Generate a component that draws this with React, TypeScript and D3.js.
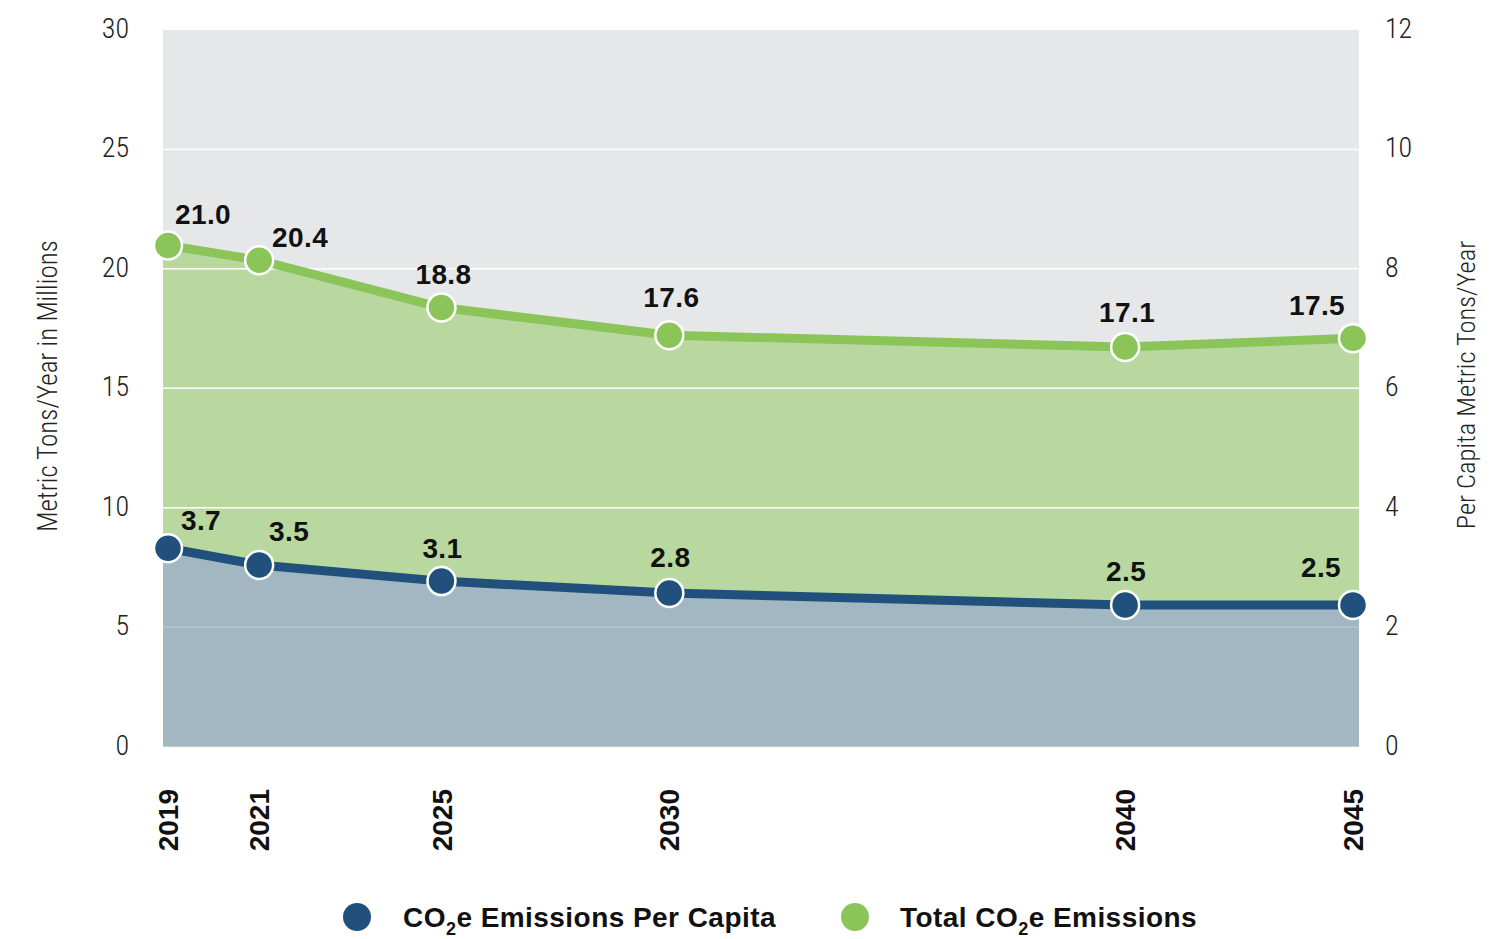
import React from "react";
import * as d3 from "d3";

const years = [2019, 2021, 2025, 2030, 2040, 2045];
const totalValues = [20.98, 20.36, 18.38, 17.22, 16.73, 17.09];
const totalLabels = ["21.0", "20.4", "18.8", "17.6", "17.1", "17.5"];
const perCapitaValues = [3.32, 3.04, 2.77, 2.57, 2.37, 2.37];
const perCapitaLabels = ["3.7", "3.5", "3.1", "2.8", "2.5", "2.5"];
const leftTicks = [0, 5, 10, 15, 20, 25, 30];
const rightTicks = [0, 2, 4, 6, 8, 10, 12];

// label placement offsets (layout)
const totalLabelOffsets: [number, number][] = [[35, -32], [41, -23], [2, -34], [2, -38], [2, -35], [-36, -33]];
const perCapLabelOffsets: [number, number][] = [[33, -28], [30, -34], [1, -33], [1, -36], [1, -34], [-32, -38]];

const W = 1506, H = 939;
const L = 163, R = 1359, T = 30, B = 746.5;

const C = {
  bg: "#e6e7e9",
  greenArea: "#b8d8a0",
  green: "#8bc55a",
  blue: "#20507b",
  blueArea: "#a2b7c2",
};

const condensed = "'Roboto Condensed','Liberation Sans Narrow','Arial Narrow','DejaVu Sans Condensed',sans-serif";
const bold = "'Liberation Sans',Arial,Helvetica,sans-serif";

export default function App() {
  const x = d3.scaleLinear().domain([2019, 2045]).range([168, 1353]);
  const yL = d3.scaleLinear().domain([0, 30]).range([B, T]);
  const yR = d3.scaleLinear().domain([0, 12]).range([B, T]);

  const totalPts: [number, number][] = years.map((yr, i) => [x(yr), yL(totalValues[i])]);
  const capPts: [number, number][] = years.map((yr, i) => [x(yr), yR(perCapitaValues[i])]);

  const extend = (pts: [number, number][]) => [[L, pts[0][1]] as [number, number], ...pts, [R, pts[pts.length - 1][1]] as [number, number]];

  const area = d3.area<[number, number]>().x(d => d[0]).y0(B).y1(d => d[1]);
  const line = d3.line<[number, number]>().x(d => d[0]).y(d => d[1]);

  const grid = leftTicks.filter(t => t > 0 && t < 30);

  return (
    <svg width={W} height={H} style={{ position: "absolute", left: 0, top: 0, background: "#fff" }}>
      <rect x={L} y={T} width={R - L} height={B - T} fill={C.bg} />
      <path d={area(extend(totalPts)) || ""} fill={C.greenArea} />
      {grid.map(t => (
        <line key={"g" + t} x1={L} x2={R} y1={yL(t)} y2={yL(t)} stroke="#fff" strokeWidth={1.5} />
      ))}
      <path d={area(extend(capPts)) || ""} fill={C.blueArea} />
      {grid.map(t => (
        <line key={"g2" + t} x1={L} x2={R} y1={yL(t)} y2={yL(t)} stroke="#fff" strokeOpacity={0.2} strokeWidth={1.5} />
      ))}

      <path d={line(totalPts) || ""} fill="none" stroke={C.green} strokeWidth={9} strokeLinejoin="round" />
      <path d={line(capPts) || ""} fill="none" stroke={C.blue} strokeWidth={9} strokeLinejoin="round" />

      {totalPts.map((p, i) => (
        <circle key={"tc" + i} cx={p[0]} cy={p[1]} r={14} fill={C.green} stroke="#fff" strokeWidth={2.5} />
      ))}
      {capPts.map((p, i) => (
        <circle key={"cc" + i} cx={p[0]} cy={p[1]} r={14} fill={C.blue} stroke="#fff" strokeWidth={2.5} />
      ))}

      {totalPts.map((p, i) => (
        <text key={"tl" + i} x={p[0] + totalLabelOffsets[i][0]} y={p[1] + totalLabelOffsets[i][1]} dy="0.36em"
          textAnchor="middle" fontFamily={bold} fontWeight="bold" fontSize={28} letterSpacing={0.4} fill="#111">{totalLabels[i]}</text>
      ))}
      {capPts.map((p, i) => (
        <text key={"cl" + i} x={p[0] + perCapLabelOffsets[i][0]} y={p[1] + perCapLabelOffsets[i][1]} dy="0.36em"
          textAnchor="middle" fontFamily={bold} fontWeight="bold" fontSize={28} letterSpacing={0.4} fill="#111">{perCapitaLabels[i]}</text>
      ))}

      {leftTicks.map(t => (
        <text key={"lt" + t} x={129} y={yL(t) - 2} dy="0.36em" textAnchor="end" fontFamily={condensed} fontWeight={300} fontSize={28} fill="#222">{t}</text>
      ))}
      {rightTicks.map(t => (
        <text key={"rt" + t} x={1385} y={yR(t) - 2} dy="0.36em" textAnchor="start" fontFamily={condensed} fontWeight={300} fontSize={28} fill="#222">{t}</text>
      ))}

      <text transform={`translate(47,386) rotate(-90)`} dy="0.36em" textAnchor="middle" fontFamily={condensed} fontWeight={300} fontSize={27} fill="#222">Metric Tons/Year in Millions</text>
      <text transform={`translate(1465,385) rotate(-90)`} dy="0.36em" textAnchor="middle" fontFamily={condensed} fontWeight={300} fontSize={26.5} fill="#222">Per Capita Metric Tons/Year</text>

      {years.map(yr => (
        <text key={"yr" + yr} transform={`translate(${x(yr)},789) rotate(-90)`} dy="0.36em" textAnchor="end" fontFamily={bold} fontWeight="bold" fontSize={28} fill="#111">{yr}</text>
      ))}

      <circle cx={357} cy={917} r={14} fill={C.blue} />
      <text x={403} y={927} fontFamily={bold} fontWeight="bold" fontSize={28} letterSpacing={0.45} fill="#111">
        CO<tspan fontSize={18} dy={8}>2</tspan><tspan dy={-8}>e Emissions Per Capita</tspan>
      </text>
      <circle cx={855} cy={917} r={14} fill={C.green} />
      <text x={900} y={927} fontFamily={bold} fontWeight="bold" fontSize={28} letterSpacing={0.45} fill="#111">
        Total CO<tspan fontSize={18} dy={8}>2</tspan><tspan dy={-8}>e Emissions</tspan>
      </text>
    </svg>
  );
}
